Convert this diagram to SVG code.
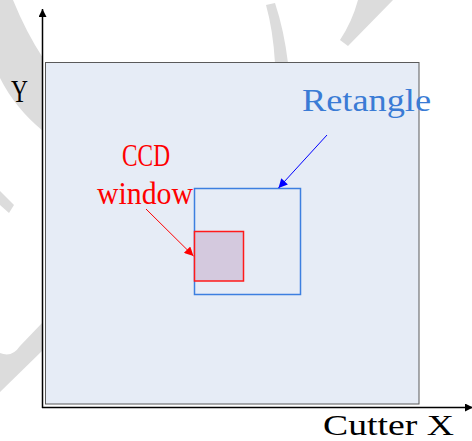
<svg xmlns="http://www.w3.org/2000/svg" width="472" height="441" viewBox="0 0 472 441">
<style>
.wm{fill:#dcdcdc;stroke:none}
.lbl{font-family:"Liberation Serif","Times New Roman",serif;font-size:31px}
.ax{stroke:#000;stroke-width:1.5;fill:none}
</style>
<defs>
<marker id="ahBlk" viewBox="0 0 10 10" refX="10" refY="5" markerWidth="8" markerHeight="8" markerUnits="userSpaceOnUse" orient="auto"><path d="M0,0 L10,5 L0,10 Z" fill="#000"/></marker>
<marker id="ahBlue" viewBox="0 0 10 10" refX="10" refY="5" markerWidth="11" markerHeight="9" markerUnits="userSpaceOnUse" orient="auto"><path d="M0,0 L10,5 L0,10 Z" fill="#0000ff"/></marker>
<marker id="ahRed" viewBox="0 0 10 10" refX="10" refY="5" markerWidth="11" markerHeight="9" markerUnits="userSpaceOnUse" orient="auto"><path d="M0,0 L10,5 L0,10 Z" fill="#ff0000"/></marker>
</defs>
<rect width="472" height="441" fill="#fff"/>
<g id="watermark">
<path class="wm" d="M0,0 L13,0 Q26,32 43,58 L43,131 Q15,108 0,78 Z"/>
<path class="wm" d="M0,191 L14,205 L9,213 L0,205 Z"/>
<path class="wm" d="M0,353 Q12,358 20,346 L43,322 L43,350 L0,392 Z"/>
<path class="wm" d="M266,5 L275,3 Q284,30 288,63 L275,63 Q273,30 266,5 Z"/>
<path class="wm" d="M340,40 Q352,22 358,0 L393,0 L348,46 Z"/>
</g>
<g id="workspace">
<rect x="45.5" y="62.5" width="373.5" height="341.5" fill="#e6ecf6" stroke="#5a5a5a" stroke-width="1"/>
</g>
<g id="axes">
<line class="ax" x1="42.5" y1="408" x2="42.5" y2="9" marker-end="url(#ahBlk)"/>
<line class="ax" x1="42" y1="407.5" x2="473" y2="407.5" marker-end="url(#ahBlk)"/>
<text class="lbl" x="11" y="102" textLength="17" lengthAdjust="spacingAndGlyphs" fill="#000">Y</text>
<text class="lbl" x="323" y="435" textLength="131" lengthAdjust="spacingAndGlyphs" fill="#000" style="font-size:29px">Cutter X</text>
</g>
<g id="retangle">
<rect x="194.5" y="188.5" width="106" height="106" fill="none" stroke="#3d7fe0" stroke-width="1.5"/>
<text class="lbl" x="302" y="111" textLength="129" lengthAdjust="spacingAndGlyphs" fill="#3a7bd5">Retangle</text>
</g>
<g id="ccd-window">
<rect x="194.5" y="231.5" width="49" height="49.5" fill="#d4c9de" stroke="#ff1a1a" stroke-width="1.5"/>
<text class="lbl" x="122" y="166" textLength="48" lengthAdjust="spacingAndGlyphs" fill="#ff0000">CCD</text>
<text class="lbl" x="97" y="204" textLength="96" lengthAdjust="spacingAndGlyphs" fill="#ff0000">window</text>
</g>
<g id="connectors">
<line x1="327" y1="135" x2="278.5" y2="188" stroke="#0000ff" stroke-width="1" marker-end="url(#ahBlue)"/>
<line x1="146" y1="209" x2="193.5" y2="256" stroke="#ff0000" stroke-width="1" marker-end="url(#ahRed)"/>
</g>
</svg>
